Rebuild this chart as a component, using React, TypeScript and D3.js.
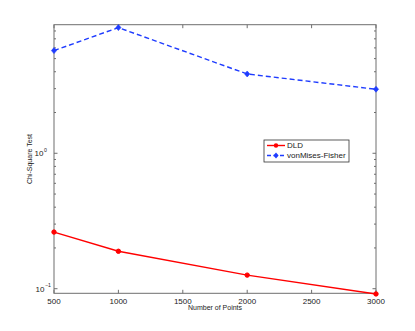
import React from "react";
import * as d3 from "d3";

const points = [500, 1000, 2000, 3000];
const dld = [0.262, 0.189, 0.126, 0.0915];
const vmf = [5.73, 8.47, 3.85, 2.97];
const xTicks = [500, 1000, 1500, 2000, 2500, 3000];
const yMajor = [0.1, 1];
const yMinor = [0.2, 0.3, 0.4, 0.5, 0.6, 0.7, 0.8, 0.9, 2, 3, 4, 5, 6, 7, 8];

const W = 415;
const H = 331;
const left = 54;
const right = 376;
const top = 24.7;
const bottom = 293.3;

export default function App() {
  const x = d3.scaleLinear().domain([500, 3000]).range([left, right]);
  const y = d3.scaleLog().domain([0.0925, 8.9]).range([bottom, top]);

  const line = d3
    .line<number>()
    .x((_, i) => x(points[i]))
    .y((d) => y(d));

  const axisColor = "#6e6e6e";
  const font = "Liberation Sans, Arial, sans-serif";

  // legend box
  const lg = { x: 264, y: 140, w: 85, h: 22 };

  return (
    <svg
      width={W}
      height={H}
      style={{ position: "absolute", left: 0, top: 0, background: "#fff" }}
      fontFamily={font}
    >
      {/* axes box */}
      <rect
        x={left}
        y={top}
        width={right - left}
        height={bottom - top}
        fill="none"
        stroke={axisColor}
        strokeWidth={1}
      />

      {/* x ticks */}
      {xTicks.map((t) => (
        <g key={t}>
          <line x1={x(t)} x2={x(t)} y1={bottom} y2={bottom - 3.5} stroke={axisColor} />
          <line x1={x(t)} x2={x(t)} y1={top} y2={top + 3.5} stroke={axisColor} />
          <text x={x(t)} y={304} fontSize={8} textAnchor="middle" fill="#222">
            {t}
          </text>
        </g>
      ))}

      {/* y ticks */}
      {yMajor.map((t) => (
        <g key={t}>
          <line x1={left} x2={left + 3.5} y1={y(t)} y2={y(t)} stroke={axisColor} />
          <line x1={right} x2={right - 3.5} y1={y(t)} y2={y(t)} stroke={axisColor} />
          <text x={t === 1 ? 43.5 : 44.5} y={y(t) + 3} fontSize={8} textAnchor="end" fill="#222">
            10
          </text>
          <text x={t === 1 ? 44 : 45} y={y(t) - 1.5} fontSize={5.2} textAnchor="start" fill="#222">
            {t === 1 ? "0" : "\u22121"}
          </text>
        </g>
      ))}
      {yMinor.map((t) => (
        <g key={t}>
          <line x1={left} x2={left + 2} y1={y(t)} y2={y(t)} stroke={axisColor} />
          <line x1={right} x2={right - 2} y1={y(t)} y2={y(t)} stroke={axisColor} />
        </g>
      ))}

      {/* axis labels */}
      <text x={215} y={310} fontSize={7} textAnchor="middle" fill="#222">
        Number of Points
      </text>
      <text
        transform={`translate(32,159) rotate(-90)`}
        fontSize={7}
        textAnchor="middle"
        fill="#222"
      >
        Chi-Square Test
      </text>

      {/* series */}
      <path d={line(dld) || ""} fill="none" stroke="#ff0000" strokeWidth={1.4} />
      {dld.map((v, i) => (
        <circle key={i} cx={x(points[i])} cy={y(v)} r={2.2} fill="#ff0000" stroke="#ff0000" />
      ))}
      <path
        d={line(vmf) || ""}
        fill="none"
        stroke="#1f3cff"
        strokeWidth={1.4}
        strokeDasharray="5,3"
      />
      {vmf.map((v, i) => (
        <path
          key={i}
          d={`M${x(points[i])},${y(v) - 3}l2.6,3l-2.6,3l-2.6,-3z`}
          fill="#1f3cff"
          stroke="#1f3cff"
          strokeWidth={0.6}
        />
      ))}

      {/* legend */}
      <rect x={lg.x} y={lg.y} width={lg.w} height={lg.h} fill="#fff" stroke="#333" strokeWidth={0.8} />
      <line x1={267} x2={285} y1={145.5} y2={145.5} stroke="#ff0000" strokeWidth={1.4} />
      <circle cx={276} cy={145.5} r={2.2} fill="#ff0000" />
      <text x={287} y={148.3} fontSize={8} fill="#222">
        DLD
      </text>
      <line
        x1={267}
        x2={285}
        y1={155.5}
        y2={155.5}
        stroke="#1f3cff"
        strokeWidth={1.4}
        strokeDasharray="4,2.5"
      />
      <path d={`M276,152.5l2.6,3l-2.6,3l-2.6,-3z`} fill="#1f3cff" />
      <text x={287} y={158.3} fontSize={8} fill="#222">
        vonMises-Fisher
      </text>
    </svg>
  );
}
